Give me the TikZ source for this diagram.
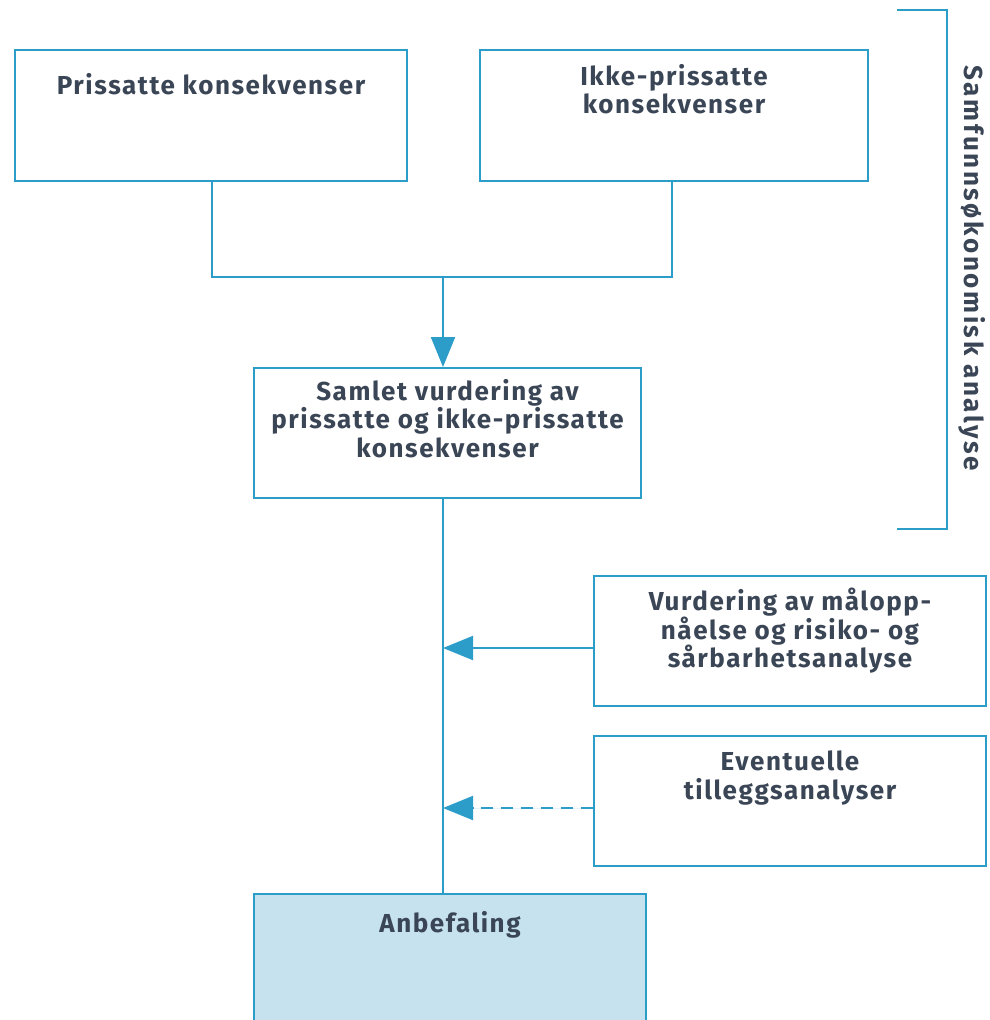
\documentclass[tikz,border=0pt]{standalone}
\usepackage{fontspec}
\setmainfont{Fira Sans}
\newfontfamily\lblfont[LetterSpace=6]{Fira Sans}
\newfontfamily\sidefont[LetterSpace=10]{Fira Sans}
\usetikzlibrary{arrows.meta}
\definecolor{lblue}{HTML}{2C9CC8}
\definecolor{txt}{HTML}{3A4555}
\definecolor{fillb}{HTML}{C6E2EE}
\begin{document}
\begin{tikzpicture}[x=1pt,y=-1pt,
  box/.style={draw=lblue, line width=2pt, rectangle, inner sep=0pt, anchor=north west},
  lbl/.style={anchor=north, align=center, text=txt, font=\lblfont\bfseries\fontsize{26}{28.5}\selectfont, inner sep=0pt},
  sidelbl/.style={anchor=center, rotate=-90, text=txt, font=\sidefont\bfseries\fontsize{26}{28.5}\selectfont, inner sep=0pt},
  conn/.style={draw=lblue, line width=2pt},
  tip/.style={-{Triangle[length=30pt,width=24pt]}, fill=lblue}]
\useasboundingbox (0,0) rectangle (990,1020);
\clip (0,0) rectangle (990,1020);
% boxes
\node[box, minimum width=392pt, minimum height=131pt] (b1) at (14,49) {};
\node[box, minimum width=388pt, minimum height=131pt] (b2) at (479,49) {};
\node[box, minimum width=387pt, minimum height=130pt] (b3) at (253,367) {};
\node[box, minimum width=392pt, minimum height=130pt] (b4) at (593,575) {};
\node[box, minimum width=392pt, minimum height=130pt] (b5) at (593,735) {};
\node[box, fill=fillb, minimum width=392pt, minimum height=160pt] (b6) at (253,893) {};
% labels
\node[lbl] (t1) at ([yshift=-24pt]b1.north) {Prissatte konsekvenser};
\node[lbl] (t2) at ([yshift=-15pt]b2.north) {Ikke-prissatte\\konsekvenser};
\node[lbl] (t3) at ([yshift=-12pt]b3.north) {Samlet vurdering av\\prissatte og ikke-prissatte\\konsekvenser};
\node[lbl] (t4) at ([yshift=-13pt]b4.north) {Vurdering av målopp-\\nåelse og risiko- og\\sårbarhetsanalyse};
\node[lbl] (t5) at ([yshift=-16pt]b5.north) {Eventuelle\\tilleggsanalyser};
\node[lbl] (t6) at ([yshift=-18pt]b6.north) {Anbefaling};
% junction coordinates
\coordinate (j1) at (212,277);
\coordinate (j2) at (672,277);
\coordinate (jm) at (443,277);
\coordinate (a4) at (443,648);
\coordinate (a5) at (443,808);
% connectors
\draw[conn] (b1.south -| j1) -- (j1) -- (j2) -- (b2.south -| j2);
\draw[conn, tip] (jm) -- (jm |- b3.north);
\draw[conn] (b3.south -| jm) -- (b6.north -| jm);
\draw[conn, tip] (b4.west |- a4) -- (a4);
\draw[conn, tip, dash pattern=on 12pt off 8pt] (b5.west |- a5) -- (a5);
% bracket
\coordinate (k1) at (897,10);
\coordinate (k2) at (947,10);
\coordinate (k3) at (947,529);
\coordinate (k4) at (897,529);
\draw[conn] (k1) -- (k2) -- (k3) -- (k4);
\node[sidelbl] (side) at (972,268) {Samfunnsøkonomisk analyse};
\end{tikzpicture}
\end{document}
